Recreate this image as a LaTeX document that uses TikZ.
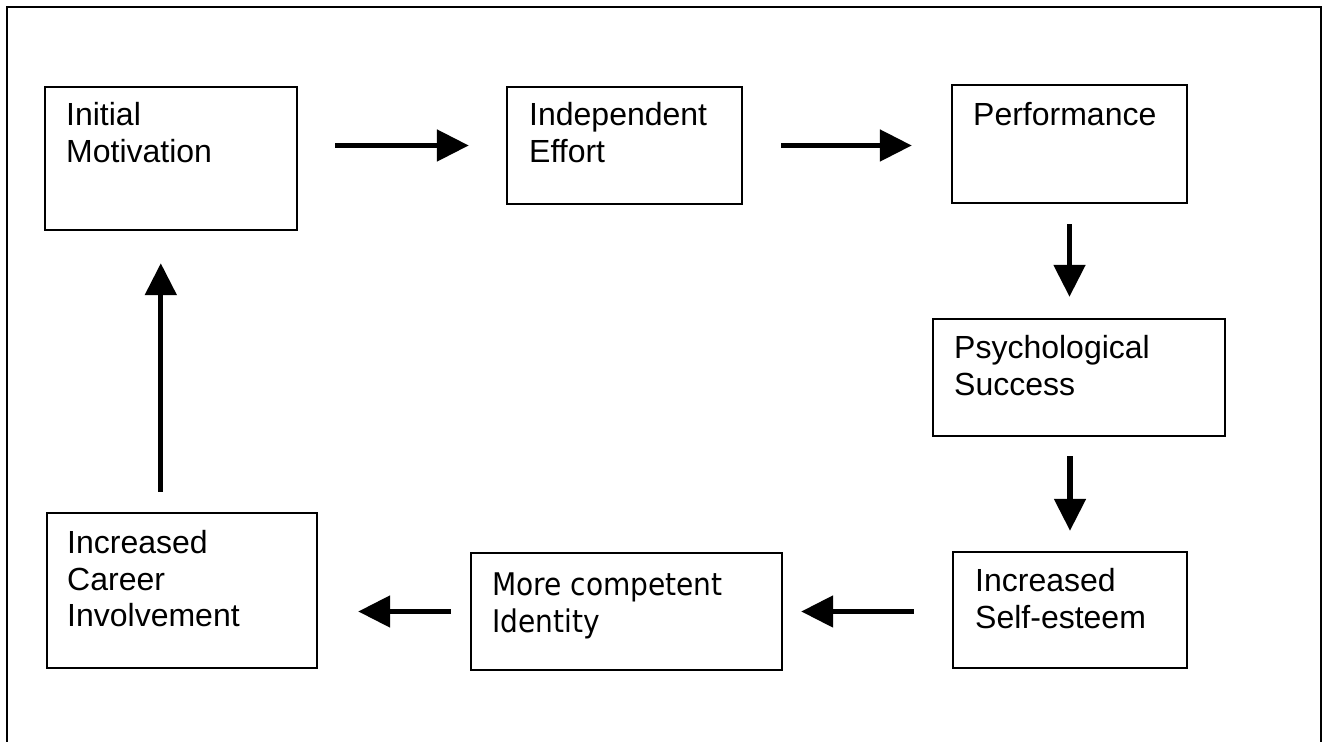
\documentclass[tikz,border=0pt]{standalone}
\usepackage{fontspec}
\setmainfont{Liberation Sans}
\newfontfamily\tahomalike{DejaVu Sans Condensed}
\usetikzlibrary{arrows.meta}
\begin{document}
\begin{tikzpicture}[x=0.5pt,y=-0.5pt,
  box/.style={draw=black,line width=1.2pt,rectangle,inner sep=0pt},
  lbl/.style={anchor=base west,inner sep=0pt,align=left,
    font=\fontsize{16pt}{18.3pt}\selectfont},
  lbl2/.style={anchor=base west,inner sep=0pt,align=left,
    font=\tahomalike\fontsize{15.6pt}{18.5pt}\selectfont},
  arr/.style={line width=2.6pt,-{Triangle[length=16pt,width=15.5pt]}}
]
\useasboundingbox (0,0) rectangle (1329,742);
\draw[line width=1.2pt] (7,742) -- (7,7) -- (1321,7) -- (1321,742);

\node[box,minimum width=126pt,minimum height=71.5pt] (b1) at (171,158.5) {};
\node[box,minimum width=117.5pt,minimum height=58.5pt] (b2) at (624.5,145.5) {};
\node[box,minimum width=117.5pt,minimum height=59pt] (b3) at (1069.5,144) {};
\node[box,minimum width=146pt,minimum height=58.5pt] (b4) at (1079,377.5) {};
\node[box,minimum width=117pt,minimum height=58pt] (b5) at (1070,610) {};
\node[box,minimum width=155.5pt,minimum height=58.5pt] (b6) at (626.5,611.5) {};
\node[box,minimum width=135pt,minimum height=77.5pt] (b7) at (182,590.5) {};

% base west = baseline of the last line
\node[lbl] (t1) at ([shift={(11pt,-38.3pt)}]b1.north west) {Initial\\Motivation};
\node[lbl] (t2) at ([shift={(11.5pt,-38.3pt)}]b2.north west) {Independent\\Effort};
\node[lbl] (t3) at ([shift={(11pt,-21pt)}]b3.north west) {Performance};
\node[lbl] (t4) at ([shift={(11pt,-38.8pt)}]b4.north west) {Psychological\\Success};
\node[lbl] (t5) at ([shift={(11.5pt,-38.8pt)}]b5.north west) {Increased\\Self-esteem};
\node[lbl2] (t6) at ([shift={(11pt,-40.5pt)}]b6.north west) {More competent\\Identity};
\node[lbl] (t7) at ([shift={(10.5pt,-57.6pt)}]b7.north west) {Increased\\Career\\Involvement};

\draw[arr,shorten <=18.5pt,shorten >=18.5pt] (b1.east |- b2.west) -- (b2.west);
\draw[arr,shorten <=19pt,shorten >=19.5pt] (b2.east) -- (b3.west |- b2.east);
\draw[arr,shorten <=10pt,shorten >=10.5pt] (b3.south) -- (b3.south |- b4.north);
\draw[arr,shorten <=9.5pt,shorten >=10pt] (b5.north |- b4.south) -- (b5.north);
\draw[arr,shorten <=19pt,shorten >=9pt] (b5.west |- b6.east) -- (b6.east);
\draw[arr,shorten <=9.5pt,shorten >=20pt] (b6.west) -- (b7.east |- b6.west);
\draw[arr,shorten <=10pt,shorten >=16pt] ([xshift=57.5pt]b7.north west) -- ([xshift=57.5pt]b7.north west |- b1.south);
\end{tikzpicture}
\end{document}
